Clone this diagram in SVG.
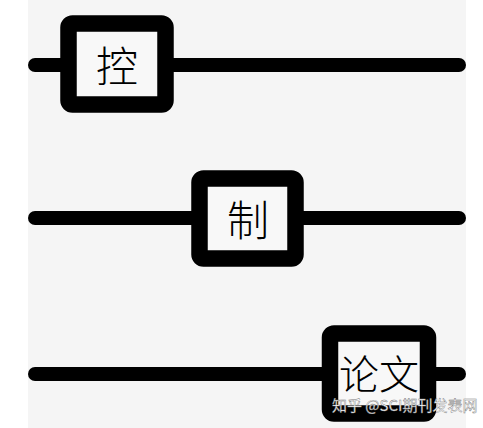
<svg xmlns="http://www.w3.org/2000/svg" width="483" height="428" viewBox="0 0 483 428">
<style>
.line{stroke:#000;stroke-width:14;stroke-linecap:round;fill:none}
.box{fill:#f8f8f8;stroke:#000;stroke-width:16.5}
.lbl{font-family:"Noto Sans CJK SC","Noto Sans CJK JP",serif;font-size:42px;font-weight:300;fill:#000;text-anchor:middle;dominant-baseline:central}
.wm{font-family:"Noto Sans CJK SC",sans-serif;font-size:15px;fill:#fff;stroke:#777;stroke-width:0.4}
</style>
<rect x="0" y="0" width="483" height="428" fill="#ffffff"/>
<rect x="28" y="0" width="438" height="428" fill="#f5f5f5"/>
<g id="connectors">
<line class="line" x1="35" y1="65" x2="459" y2="65"/>
<line class="line" x1="35" y1="218" x2="459" y2="218"/>
<line class="line" x1="35" y1="374" x2="459" y2="374"/>
</g>
<g id="node-kong">
<rect class="box" x="68.5" y="23.5" width="97" height="81" rx="4"/>
<text class="lbl" x="117" y="63">控</text>
</g>
<g id="node-zhi">
<rect class="box" x="199.5" y="178.5" width="96" height="80" rx="4"/>
<text class="lbl" x="248" y="217">制</text>
</g>
<g id="node-lunwen">
<rect class="box" x="330" y="333.5" width="98" height="80" rx="4"/>
<text class="lbl" x="379" y="372" style="font-size:40px">论文</text>
</g>
<text class="wm" x="332" y="411">知乎 @SCI期刊发表网</text>
</svg>
